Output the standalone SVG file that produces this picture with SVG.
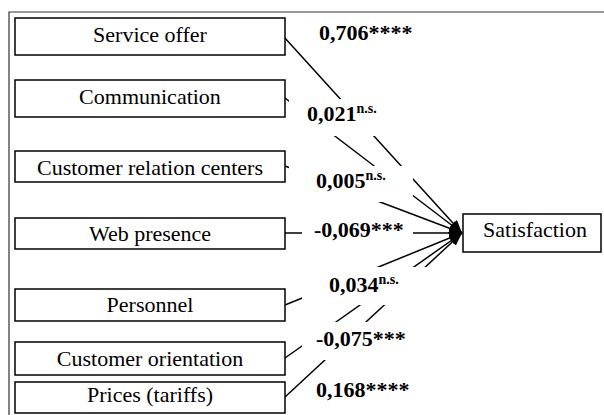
<svg xmlns="http://www.w3.org/2000/svg" width="604" height="415" viewBox="0 0 604 415">
<style>
.box{fill:#fff;stroke:#000;stroke-width:1.5}
.frame{fill:none;stroke:#333;stroke-width:1.2}
.lbl{font-family:"Liberation Serif","Times New Roman",serif;font-size:22px;fill:#000;text-anchor:middle}
.coef{font-family:"Liberation Serif","Times New Roman",serif;font-size:22px;font-weight:bold;fill:#000}
.sup{font-size:14px}
.conn{stroke:#000;stroke-width:1.5;fill:none;marker-end:url(#ah)}
.mask{fill:#fff;stroke:none}
</style>
<defs>
<marker id="ah" markerUnits="userSpaceOnUse" markerWidth="14" markerHeight="11" refX="13" refY="5" orient="auto">
<path d="M0,0 L13,5 L0,10 z" fill="#000"/>
</marker>
</defs>
<rect width="604" height="415" fill="#fff"/>
<path class="frame" d="M9,415 L9,12 L604,12"/>
<g id="connectors">
<line class="conn" x1="284" y1="37" x2="462" y2="233"/>
<line class="conn" x1="285" y1="98" x2="462" y2="233"/>
<line class="conn" x1="285" y1="166" x2="462" y2="233"/>
<line class="conn" x1="285" y1="233" x2="462" y2="233"/>
<line class="conn" x1="285" y1="305" x2="462" y2="233"/>
<line class="conn" x1="285" y1="358" x2="462" y2="233"/>
<line class="conn" x1="285" y1="397" x2="462" y2="233"/>
</g>
<g id="coefficients">
<text class="coef" x="319" y="40">0,706****</text>
<rect class="mask" x="289" y="99" width="100" height="37"/>
<text class="coef" x="307" y="121">0,021<tspan class="sup" dy="-8">n.s.</tspan></text>
<rect class="mask" x="289" y="166" width="124" height="36"/>
<text class="coef" x="316" y="188">0,005<tspan class="sup" dy="-8">n.s.</tspan></text>
<rect class="mask" x="302" y="215" width="111" height="35"/>
<text class="coef" x="314" y="237">-0,069***</text>
<rect class="mask" x="302" y="267" width="128" height="38"/>
<text class="coef" x="329" y="292">0,034<tspan class="sup" dy="-8">n.s.</tspan></text>
<rect class="mask" x="302" y="322" width="110" height="38"/>
<text class="coef" x="316" y="346">-0,075***</text>
<text class="coef" x="316" y="397">0,168****</text>
</g>
<g id="service-offer"><rect class="box" x="15" y="18" width="270" height="37"/><text class="lbl" x="150" y="42">Service offer</text></g>
<g id="communication"><rect class="box" x="15" y="80" width="270" height="37"/><text class="lbl" x="150" y="104">Communication</text></g>
<g id="customer-relation-centers"><rect class="box" x="15" y="151" width="270" height="31"/><text class="lbl" x="150" y="175">Customer relation centers</text></g>
<g id="web-presence"><rect class="box" x="15" y="218" width="270" height="31"/><text class="lbl" x="150" y="241">Web presence</text></g>
<g id="personnel"><rect class="box" x="15" y="289" width="270" height="32"/><text class="lbl" x="150" y="312">Personnel</text></g>
<g id="customer-orientation"><rect class="box" x="15" y="342" width="270" height="33"/><text class="lbl" x="150" y="366">Customer orientation</text></g>
<g id="prices"><rect class="box" x="15" y="382" width="270" height="31"/><text class="lbl" x="150" y="402">Prices (tariffs)</text></g>
<g id="satisfaction"><rect class="box" x="463" y="214" width="138" height="38"/><text class="lbl" x="535" y="237">Satisfaction</text></g>
</svg>
